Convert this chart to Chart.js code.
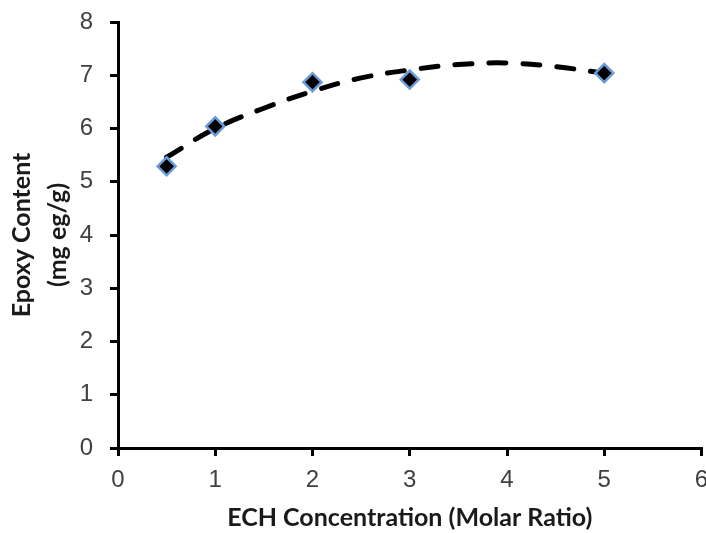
<!DOCTYPE html>
<html lang="en">

<head>
    <meta charset="utf-8">
    <title>Epoxy content</title>
    <script src="https://cdn.jsdelivr.net/npm/chart.js@4"></script>
    <style>
        body { margin: 0; background: #fff; overflow: hidden; }
    </style>
</head>

<body>
    <!-- a little wider than the window so the "6" gets cut like in the original -->
    <canvas id="epoxy" width="713" height="533"></canvas>
    <script>
        // measured points
        const ratio = [0.5, 1, 2, 3, 5];
        const epoxy = [5.29, 6.04, 6.87, 6.92, 7.04];

        // dashed trend curve
        const trendX = [0.5, 1, 1.5, 2, 2.5, 3, 3.5, 4, 4.5, 5];
        const trendY = [5.46, 6.0, 6.38, 6.7, 6.95, 7.1, 7.2, 7.23, 7.16, 7.04];

        const xTitle = 'ECH Concentration (Molar Ratio)';
        const yTitle = ['Epoxy Content', '(mg eg/g)'];

        const toXY = (xs, ys) => xs.map((x, i) => ({ x: x, y: ys[i] }));

        const noPad = (scale) => {
            scale.paddingLeft = 0;
            scale.paddingRight = 0;
            scale.paddingTop = 0;
            scale.paddingBottom = 0;
        };

        const tickFont = { family: 'Liberation Sans', size: 24 };
        const titleFont = { family: 'Lato', size: 25, weight: 'bold' };

        new Chart(document.getElementById('epoxy'), {
            type: 'scatter',
            data: {
                datasets: [{
                    label: 'points',
                    data: toXY(ratio, epoxy),
                    pointStyle: 'rectRot',
                    pointRadius: 9,
                    backgroundColor: '#000',
                    borderColor: '#6a9bd8',
                    borderWidth: 2.5,
                    order: 0,
                }, {
                    label: 'trend',
                    data: toXY(trendX, trendY),
                    showLine: true,
                    pointRadius: 0,
                    borderColor: '#000',
                    borderWidth: 5,
                    borderDash: [17, 17],
                    borderCapStyle: 'round',
                    tension: 0.4,
                    order: 1,
                }]
            },
            options: {
                responsive: false,
                animation: false,
                layout: { padding: { top: 22, right: 0, left: 0, bottom: 0 } },
                plugins: {
                    legend: { display: false },
                    tooltip: { enabled: false },
                },
                scales: {
                    x: {
                        type: 'linear',
                        min: 0,
                        max: 6,
                        ticks: { stepSize: 1, color: '#404040', font: tickFont, padding: 10, maxRotation: 0 },
                        grid: { drawOnChartArea: false, color: '#000', lineWidth: 3, tickLength: 8 },
                        border: { color: '#000', width: 3 },
                        title: { display: true, text: xTitle, color: '#1a1a1a', font: titleFont, padding: { bottom: 0 } },
                        afterFit: (scale) => { scale.height = 85; noPad(scale); },
                    },
                    y: {
                        type: 'linear',
                        min: 0,
                        max: 8,
                        ticks: { stepSize: 1, color: '#404040', font: tickFont, padding: 17 },
                        grid: { drawOnChartArea: false, color: '#000', lineWidth: 3, tickLength: 8 },
                        border: { color: '#000', width: 3 },
                        title: { display: true, text: yTitle, color: '#1a1a1a', font: Object.assign({ lineHeight: 1.44 }, titleFont), padding: { top: 4 } },
                        afterFit: (scale) => { scale.width = 118; noPad(scale); },
                    },
                }
            }
        });
    </script>
</body>

</html>
